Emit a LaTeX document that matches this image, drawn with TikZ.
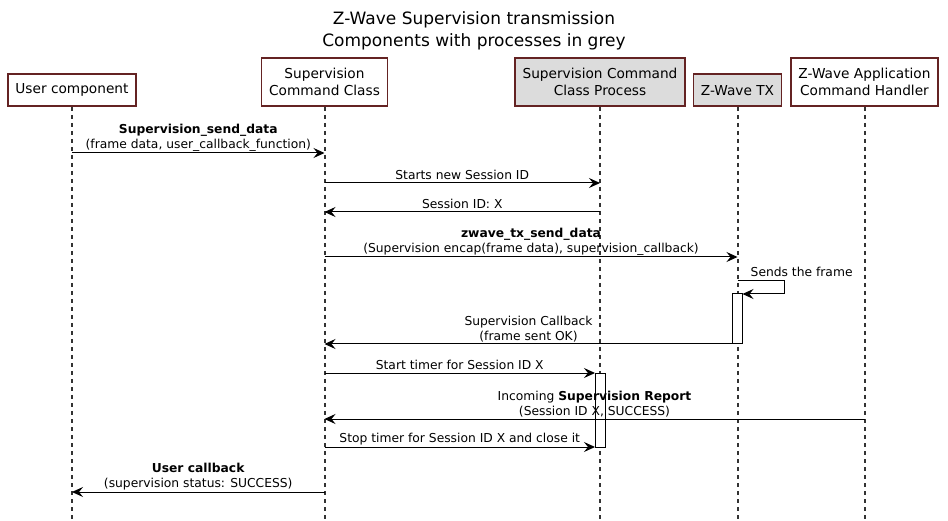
\documentclass[tikz,border=0pt]{standalone}
\usepackage{fontspec}
\setmainfont{DejaVu Sans}
\usetikzlibrary{arrows.meta,positioning}

\definecolor{boxborder}{RGB}{100,35,35}
\definecolor{procgrey}{RGB}{220,220,220}

\tikzset{
  actor/.style={draw=boxborder, line width=1.5pt, fill=white, align=center,
    font=\fontsize{13.7}{17}\selectfont, inner sep=0pt, anchor=south},
  procactor/.style={actor, fill=procgrey},
  lifeline/.style={draw=black!80, line width=2pt, dash pattern=on 4pt off 4pt},
  msg/.style={line width=1pt, -{Stealth[length=11pt,width=10pt,inset=4pt]}},
  msgtext/.style={font=\fontsize{12.3}{14.5}\selectfont, align=center,
    inner sep=0pt, execute at end node={\vphantom{(}}},
  activation/.style={draw, line width=1pt, fill=white, inner sep=0pt,
    outer sep=0pt, minimum width=10pt, anchor=north}
}

% one coordinate on every lifeline at height #2
\newcommand\msgrow[2]{%
  \foreach \n in {user,scc,sccp,tx,app}
    \coordinate (\n-#1) at (\n.south |- 0,#2);
}

\begin{document}
\begin{tikzpicture}[x=1pt,y=-1pt]
        \useasboundingbox (0,0) rectangle (948,521);

        \node[font=\fontsize{17}{22}\selectfont, align=center] (title) at (474,31)
          {Z-Wave Supervision transmission\\Components with processes in grey};

        % components
        \node[actor, minimum width=128pt, minimum height=32pt] (user) at (72,107) {User component};
        \node[actor, minimum width=126pt, minimum height=48pt] (scc) at (324.5,107) {Supervision\\Command Class};
        \node[procactor, minimum width=170pt, minimum height=48pt] (sccp) at (600,107) {Supervision Command\\Class Process};
        \node[procactor, minimum width=88pt, minimum height=32pt] (tx) at (737.5,107) {Z-Wave TX};
        \node[actor, minimum width=147pt, minimum height=48pt] (app) at (864.5,107) {Z-Wave Application\\Command Handler};

        \foreach \n in {user,scc,sccp,tx,app}
          \draw[lifeline] (\n.south) -- (\n.south |- 0,521);

        \msgrow{1}{153}
        \msgrow{2}{183}
        \msgrow{3}{212}
        \msgrow{4}{257}
        \msgrow{5}{281}
        \msgrow{5b}{294}
        \msgrow{6}{344}
        \msgrow{7}{373}
        \msgrow{8}{419}
        \msgrow{9}{447}
        \msgrow{10}{492}

        % activations
        \node[activation, minimum height=50pt] (txact) at (tx-5b) {};
        \node[activation, minimum height=74pt] (sccpact) at (sccp-7) {};

        \draw[msg] (user-1) -- (scc-1) node[msgtext, midway, above=1.5pt]
          {\textbf{Supervision\_send\_data}\\(frame data, user\_callback\_function)};
        \draw[msg] (scc-2) -- (sccp-2) node[msgtext, midway, above=1.5pt] {Starts new Session ID};
        \draw[msg] (sccp-3) -- (scc-3) node[msgtext, midway, above=1.5pt] {Session ID: X};
        \draw[msg] (scc-4) -- (tx-4) node[msgtext, midway, above=1.5pt]
          {\textbf{zwave\_tx\_send\_data}\\(Supervision encap(frame data), supervision\_callback)};

        \draw[msg] (tx-5) -- ++(47,0) |- (txact.north east);
        \node[msgtext, anchor=base west] (sends) at ([xshift=13pt,yshift=4.5pt]tx-5) {Sends the frame};

        \draw[msg] (txact.south west) -- (scc-6) node[msgtext, midway, above=1.5pt]
          {Supervision Callback\\(frame sent OK)};
        \draw[msg] (scc-7) -- (sccpact.north west) node[msgtext, midway, above=1.5pt]
          {Start timer for Session ID X};
        \draw[msg] (app-8) -- (scc-8) node[msgtext, midway, above=1.5pt]
          {Incoming \textbf{Supervision Report}\\(Session ID X, SUCCESS)};
        \draw[msg] (scc-9) -- (sccpact.south west) node[msgtext, midway, above=1.5pt]
          {Stop timer for Session ID X and close it};
        \draw[msg] (scc-10) -- (user-10) node[msgtext, midway, above=1.5pt]
          {\textbf{User callback}\\(supervision status: SUCCESS)};

\end{tikzpicture}
\end{document}
